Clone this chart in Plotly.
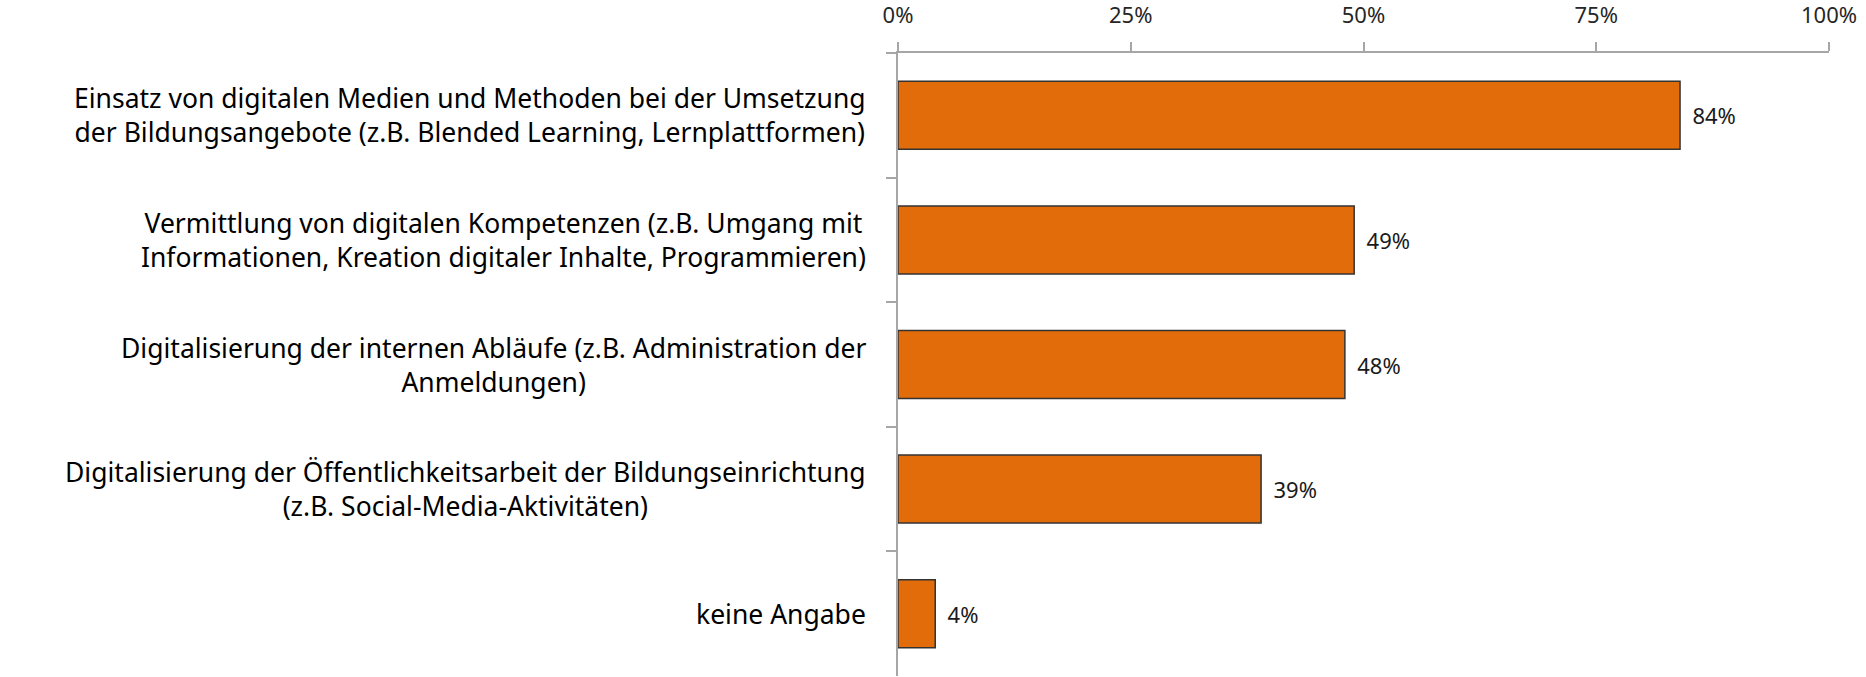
import plotly.graph_objects as go

categories = [
    "Einsatz von digitalen Medien und Methoden bei der Umsetzung<br>der Bildungsangebote (z.B. Blended Learning, Lernplattformen)",
    "Vermittlung von digitalen Kompetenzen (z.B. Umgang mit<br>Informationen, Kreation digitaler Inhalte, Programmieren)",
    "Digitalisierung der internen Abläufe (z.B. Administration der<br>Anmeldungen)",
    "Digitalisierung der Öffentlichkeitsarbeit der Bildungseinrichtung<br>(z.B. Social-Media-Aktivitäten)",
    "keine Angabe",
]
values = [84, 49, 48, 39, 4]
tick_values = [0, 25, 50, 75, 100]
tick_labels = ["0%", "25%", "50%", "75%", "100%"]

FONT = "Noto Sans"

fig = go.Figure()
fig.add_trace(go.Bar(
    x=values,
    y=categories,
    orientation="h",
    marker=dict(color="#E36C0A", line=dict(color="#333333", width=1.5)),
    text=[f"\u00a0\u2009{v}%" for v in values],
    textposition="outside",
    textfont=dict(family=FONT, size=22, color="#1a1a1a"),
    cliponaxis=False,
    hoverinfo="skip",
))

for c in categories:
    fig.add_annotation(
        x=0, xref="paper", y=c, yref="y",
        text=c, showarrow=False,
        xanchor="right", yanchor="middle", align="center",
        xshift=-30,
        font=dict(family=FONT, size=26.5, color="#000000"),
    )

fig.update_layout(
    width=1866, height=677,
    margin=dict(l=898, r=37, t=53, b=1),
    paper_bgcolor="white", plot_bgcolor="white",
    bargap=0.454,
    showlegend=False,
    xaxis=dict(
        side="top", range=[0, 100], automargin=False,
        tickmode="array", tickvals=tick_values, ticktext=tick_labels,
        showline=True, linecolor="#a6a6a6", linewidth=1.5,
        ticks="outside", ticklen=9, tickcolor="#a6a6a6", tickwidth=1.5,
        showgrid=False, zeroline=False,
        tickfont=dict(family=FONT, size=22, color="#262626"),
        ticklabelstandoff=10,
    ),
    yaxis=dict(
        autorange="reversed", automargin=False,
        showticklabels=False,
        showline=True, linecolor="#a6a6a6", linewidth=1.5,
        ticks="outside", ticklen=10, tickcolor="#a6a6a6", tickwidth=1.5,
        tickson="boundaries",
        showgrid=False, zeroline=False,
    ),
)

fig.write_html(
    "out.html",
    config={"displayModeBar": False},
    post_script="document.body.style.margin='0';document.body.style.overflow='hidden';",
)
